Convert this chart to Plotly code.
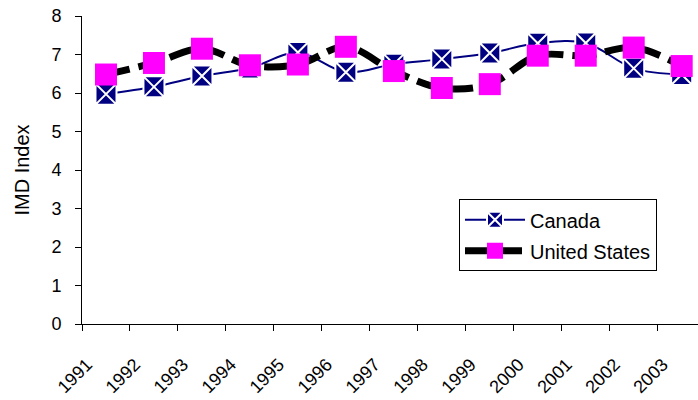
import plotly.graph_objects as go

years = ["1991", "1992", "1993", "1994", "1995", "1996", "1997",
         "1998", "1999", "2000", "2001", "2002", "2003"]
canada = [5.97, 6.16, 6.44, 6.65, 7.05, 6.54, 6.75, 6.88, 7.04, 7.29, 7.30, 6.64, 6.48]
united_states = [6.48, 6.78, 7.15, 6.72, 6.74, 7.20, 6.57, 6.13, 6.23, 6.97, 6.97, 7.18, 6.70]

fig = go.Figure()
fig.add_trace(go.Scatter(
    x=years, y=canada, name="Canada", mode="lines+markers", legendgroup="a",
    line=dict(color="#000080", width=2, shape="spline", smoothing=1),
    marker=dict(symbol="square-x", size=21, color="#000080",
                line=dict(color="white", width=2)),
    cliponaxis=False,
))
fig.add_trace(go.Scatter(
    x=years, y=united_states, name="United States", mode="lines+markers", legendgroup="b",
    line=dict(color="black", width=7, dash="24px,9px", shape="spline", smoothing=1),
    marker=dict(symbol="square", size=22, color="#FF00FF",
                line=dict(color="#FF00FF", width=0)),
    cliponaxis=False,
))

font = "Liberation Sans, Arial, sans-serif"
fig.update_layout(
    width=698, height=400,
    margin=dict(l=82, r=0, t=16, b=76),
    paper_bgcolor="white", plot_bgcolor="white",
    font=dict(family=font, size=18, color="black"),
    showlegend=True,
    legend=dict(x=0.612, y=0.405, xanchor="left", yanchor="top",
                bordercolor="black", borderwidth=1, bgcolor="white",
                font=dict(size=20), itemwidth=60, traceorder="grouped",
                tracegroupgap=2, entrywidth=205, entrywidthmode="pixels"),
    xaxis=dict(type="category", range=[-0.5, 12.34], tickson="boundaries",
               ticks="outside", ticklen=6, tickcolor="black",
               showline=True, linecolor="black", linewidth=1,
               showgrid=False, tickangle=-45, tickfont=dict(size=18),
               automargin=False, ticklabelshift=-19, ticklabelstandoff=22,
               ticklabeloverflow="allow"),
    yaxis=dict(range=[0, 8], dtick=1, ticks="outside", ticklen=6, tickcolor="black",
               showline=True, linecolor="black", linewidth=1, showgrid=False,
               zeroline=False, automargin=False, ticklabelstandoff=10,
               ticklabeloverflow="allow",
               title=dict(text="IMD Index", standoff=16, font=dict(size=20)),
               tickfont=dict(size=18)),
)

fig.write_html("out.html", config={"displayModeBar": False},
               post_script="document.body.style.margin='0px';")
